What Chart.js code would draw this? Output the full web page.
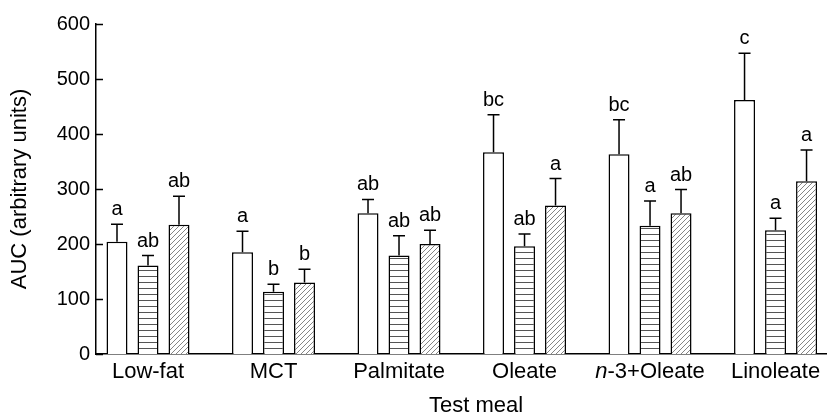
<!DOCTYPE html>
<html>
<head>
<meta charset="utf-8">
<title>AUC by test meal</title>
<script src="https://cdn.jsdelivr.net/npm/chart.js@4.4.0/dist/chart.umd.min.js"></script>
<style>
    html, body { margin: 0; padding: 0; background: #fff; overflow: hidden; }
</style>
</head>
<body>
<canvas id="auc" width="827" height="413"></canvas>
<script>
// data
const meals = ['Low-fat', 'MCT', 'Palmitate', 'Oleate', 'n-3+Oleate', 'Linoleate'];
const aucWhite = [204, 185, 256, 367, 363, 462];
const aucLines = [161, 113, 179, 196, 233, 225];
const aucHatch = [235, 130, 200, 270, 256, 314];
const seWhite = [32, 38, 25, 68, 63, 85];
const seLines = [18, 14, 36, 22, 45, 22];
const seHatch = [52, 24, 25, 49, 43, 57];
const letWhite = ['a', 'a', 'ab', 'bc', 'bc', 'c'];
const letLines = ['ab', 'b', 'ab', 'ab', 'a', 'a'];
const letHatch = ['ab', 'b', 'ab', 'a', 'ab', 'a'];
const yTicks = [0, 100, 200, 300, 400, 500, 600];

const FONT = "'Liberation Sans', Arial, sans-serif";
Chart.defaults.font.family = FONT;
Chart.defaults.color = '#000';

function makePattern(kind) {
    const c = document.createElement('canvas');
    const g = c.getContext('2d');
    if (kind === 'lines') {
        c.width = 8; c.height = 6;
        g.fillStyle = '#fff';
        g.fillRect(0, 0, 8, 6);
        g.strokeStyle = '#555';
        g.lineWidth = 1;
        g.beginPath();
        g.moveTo(0, 0.5); g.lineTo(8, 0.5);
        g.stroke();
    } else {
        c.width = 5; c.height = 5;
        g.fillStyle = '#fff';
        g.fillRect(0, 0, 5, 5);
        g.strokeStyle = '#666';
        g.lineWidth = 0.8;
        g.beginPath();
        g.moveTo(0, 5); g.lineTo(5, 0);
        g.moveTo(-1, 1); g.lineTo(1, -1);
        g.moveTo(4, 6); g.lineTo(6, 4);
        g.stroke();
    }
    return g.createPattern(c, 'repeat');
}

function pts(arr) {
    return arr.map((v, i) => ({ x: i, y: v }));
}

const seSets = [seWhite, seLines, seHatch];
const letSets = [letWhite, letLines, letHatch];

// error bars (upper only) + letters
const errorBars = {
    id: 'errorBars',
    afterDatasetsDraw(chart) {
        const ctx = chart.ctx;
        const y = chart.scales.y;
        ctx.save();
        ctx.strokeStyle = '#000';
        ctx.lineWidth = 1.5;
        ctx.fillStyle = '#000';
        ctx.font = '20px ' + FONT;
        ctx.textAlign = 'center';
        ctx.textBaseline = 'alphabetic';
        chart.data.datasets.forEach((ds, di) => {
            const meta = chart.getDatasetMeta(di);
            meta.data.forEach((bar, i) => {
                const top = y.getPixelForValue(ds.data[i].y + seSets[di][i]);
                ctx.beginPath();
                ctx.moveTo(bar.x, bar.y);
                ctx.lineTo(bar.x, top);
                ctx.moveTo(bar.x - 6, top);
                ctx.lineTo(bar.x + 6, top);
                ctx.stroke();
                ctx.fillText(letSets[di][i], bar.x, top - 9);
            });
        });
        ctx.restore();
    }
};

// inward y ticks, x labels (italic n) and x title
const axisDecor = {
    id: 'axisDecor',
    afterDraw(chart) {
        const ctx = chart.ctx;
        const x = chart.scales.x, y = chart.scales.y;
        const left = chart.chartArea.left;
        ctx.save();
        ctx.strokeStyle = '#000';
        ctx.lineWidth = 1.5;
        ctx.beginPath();
        yTicks.forEach(t => {
            const py = Math.round(y.getPixelForValue(t)) + 0.5;
            ctx.moveTo(left, py);
            ctx.lineTo(left + 7, py);
        });
        ctx.stroke();

        ctx.fillStyle = '#000';
        ctx.textBaseline = 'alphabetic';
        meals.forEach((m, i) => {
            const px = x.getPixelForValue(i);
            if (m.startsWith('n-')) {
                ctx.font = 'italic 22px ' + FONT;
                const w1 = ctx.measureText('n').width;
                ctx.font = '22px ' + FONT;
                const rest = m.slice(1);
                const w2 = ctx.measureText(rest).width;
                const sx = px - (w1 + w2) / 2;
                ctx.textAlign = 'left';
                ctx.font = 'italic 22px ' + FONT;
                ctx.fillText('n', sx, 378);
                ctx.font = '22px ' + FONT;
                ctx.fillText(rest, sx + w1, 378);
            } else {
                ctx.font = '22px ' + FONT;
                ctx.textAlign = 'center';
                ctx.fillText(m, px, 378);
            }
        });
        ctx.font = '22px ' + FONT;
        ctx.textAlign = 'center';
        ctx.fillText('Test meal', 476, 412);
        ctx.restore();
    }
};

const barStyle = {
    borderColor: '#000',
    borderWidth: 1.5,
    categoryPercentage: 0.741,
    barPercentage: 0.677
};

const data = {
    datasets: [
        Object.assign({ label: 'white', data: pts(aucWhite), backgroundColor: '#fff' }, barStyle),
        Object.assign({ label: 'lines', data: pts(aucLines), backgroundColor: makePattern('lines') }, barStyle),
        Object.assign({ label: 'hatch', data: pts(aucHatch), backgroundColor: makePattern('hatch') }, barStyle)
    ]
};

const config = {
    type: 'bar',
    data: data,
    options: {
        responsive: false,
        animation: false,
        devicePixelRatio: 1,
        layout: { padding: { top: 24, right: 0, bottom: 0, left: 0 } },
        plugins: {
            legend: { display: false },
            tooltip: { enabled: false }
        },
        scales: {
            x: {
                type: 'linear',
                offset: false,
                min: -0.4143,
                max: 5.41,
                grid: { display: false, offset: false },
                border: { display: true, color: '#000', width: 1.5 },
                ticks: { display: false, stepSize: 1, includeBounds: false },
                afterFit: s => { s.height = 59; }
            },
            y: {
                min: 0,
                max: 600,
                grid: { display: false, drawTicks: false },
                border: { display: true, color: '#000', width: 1.5 },
                ticks: { stepSize: 100, padding: 6, font: { size: 20 }, color: '#000' },
                title: {
                    display: true,
                    text: 'AUC (arbitrary units)',
                    font: { size: 22 },
                    color: '#000',
                    padding: { top: 7, bottom: 0 }
                },
                afterFit: s => { s.width = 96; }
            }
        }
    },
    plugins: [errorBars, axisDecor]
};

const chartAuc = new Chart(document.getElementById('auc'), config);
</script>
</body>
</html>
